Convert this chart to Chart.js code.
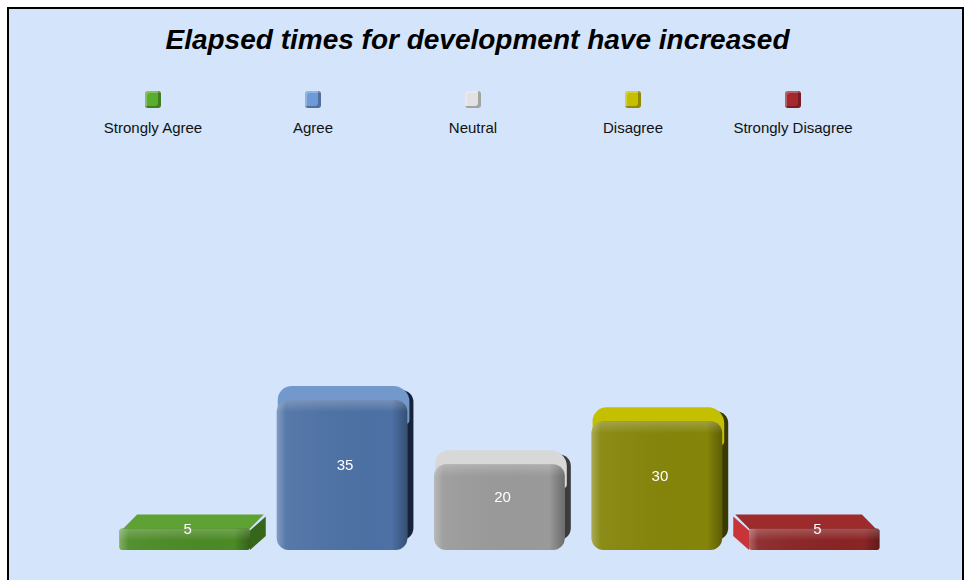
<!DOCTYPE html>
<html>
<head>
<meta charset="utf-8">
<script src="https://cdn.jsdelivr.net/npm/chart.js@4.4.1/dist/chart.umd.min.js"></script>
<style>
  html, body { margin: 0; padding: 0; background: #ffffff; }
  #wrap { position: relative; width: 969px; height: 580px; overflow: hidden; }
  #frame {
    position: absolute; left: 7px; top: 7px; width: 953px; height: 640px;
    border: 2px solid #000; background: #d3e4fb;
  }
  #title {
    position: absolute; left: 0; width: 955px; top: 24px; text-align: center;
    font: italic bold 28px "Liberation Sans", Arial, sans-serif; color: #000;
  }
  #legend { position: absolute; left: 73px; top: 91px; display: flex; }
  .item { width: 160px; text-align: center; font: 15px "Liberation Sans", Arial, sans-serif; color: #111; }
  .box {
    width: 16px; height: 17px; margin: 0 auto 11px auto; border-radius: 3px;
    box-shadow: inset -3px -2px 0 rgba(0,0,0,0.28), inset 2px 2px 0 rgba(255,255,255,0.25);
  }
  canvas { position: absolute; left: 0; top: 0; }
</style>
</head>
<body>
<div id="wrap">
  <div id="frame"></div>
  <div id="title">Elapsed times for development have increased</div>
  <div id="legend"></div>
  <canvas id="chart" width="969" height="580"></canvas>
</div>
<script>
// data
const categories = ["Strongly Agree", "Agree", "Neutral", "Disagree", "Strongly Disagree"];
const values = [5, 35, 20, 30, 5];

// colours
const frontColors = ["#4b8a25", "#4d71a5", "#9a9a9a", "#85850a", "#8a2425"];
const topColors = ["#5fa234", "#7399cc", "#d8d8d8", "#c4bf00", "#9e2b2c"];
const sideColors = ["#36661a", "#17233a", "#3c3c3c", "#3a3a00", "#c93439"];
const legendColors = ["#5bad2e", "#6e9bd8", "#e2e2e2", "#c6bf00", "#a5282c"];

// legend (HTML, boxes above labels)
const legendEl = document.getElementById("legend");
categories.forEach((c, i) => {
  const d = document.createElement("div");
  d.className = "item";
  d.innerHTML = '<div class="box" style="background:' + legendColors[i] + '"></div>' + c;
  legendEl.appendChild(d);
});

const DEPTH = 14;

function geom(chart, el) {
  const ca = chart.chartArea;
  const cx = (ca.left + ca.right) / 2;
  const dx = (cx - el.x) * 0.05;
  const tall = (el.base - el.y) > 50;
  return {
    L: el.x - el.width / 2, R: el.x + el.width / 2,
    T: el.y, B: el.base, dx: dx, dy: DEPTH,
    tall: tall, r: tall ? 12 : 3
  };
}

// back faces (top + side) drawn behind the bar fronts
const boxFaces = {
  id: "boxFaces",
  beforeDatasetsDraw(chart) {
    const ctx = chart.ctx;
    chart.getDatasetMeta(0).data.forEach((el, i) => {
      const g = geom(chart, el);
      const w = g.R - g.L;
      ctx.save();
      if (g.tall) {
        // rounded box seen slightly from above-left
        const sx = 6;
        ctx.fillStyle = sideColors[i];
        ctx.beginPath();
        ctx.roundRect(g.L + sx, g.T - g.dy + 4, w, g.B - g.T, g.r);
        ctx.fill();
        ctx.fillStyle = topColors[i];
        ctx.beginPath();
        ctx.roundRect(g.L + 1, g.T - g.dy, w + sx - 5, g.dy + g.r * 2, [g.r + 2, g.r + 4, 4, 4]);
        ctx.fill();
      } else {
        // flat slab in perspective
        ctx.fillStyle = topColors[i];
        ctx.beginPath();
        ctx.moveTo(g.L + 2, g.T + 2);
        ctx.lineTo(g.R - 2, g.T + 2);
        ctx.lineTo(g.R + g.dx - 2, g.T - g.dy);
        ctx.lineTo(g.L + g.dx + 2, g.T - g.dy);
        ctx.closePath();
        ctx.fill();
        ctx.fillStyle = sideColors[i];
        ctx.beginPath();
        const X = g.dx > 0 ? g.R : g.L;
        ctx.moveTo(X, g.T + 2);
        ctx.lineTo(X + g.dx, g.T - g.dy + 2);
        ctx.lineTo(X + g.dx, g.B - g.dy);
        ctx.lineTo(X, g.B);
        ctx.closePath();
        ctx.fill();
      }
      ctx.restore();
    });
  },
  afterDatasetsDraw(chart) {
    const ctx = chart.ctx;
    const ds = chart.data.datasets[0];
    chart.getDatasetMeta(0).data.forEach((el, i) => {
      const g = geom(chart, el);
      // sheen on the front face
      ctx.save();
      ctx.beginPath();
      ctx.roundRect(g.L, g.T, g.R - g.L, g.B - g.T, g.r);
      ctx.clip();
      const grad = ctx.createLinearGradient(g.L, 0, g.R, 0);
      grad.addColorStop(0, "rgba(255,255,255,0.30)");
      grad.addColorStop(0.07, "rgba(255,255,255,0.06)");
      grad.addColorStop(0.88, "rgba(0,0,0,0)");
      grad.addColorStop(1, "rgba(0,0,0,0.30)");
      ctx.fillStyle = grad;
      ctx.fillRect(g.L, g.T, g.R - g.L, g.B - g.T);
      const vg = ctx.createLinearGradient(0, g.T, 0, g.T + 12);
      vg.addColorStop(0, "rgba(255,255,255,0.22)");
      vg.addColorStop(1, "rgba(255,255,255,0)");
      ctx.fillStyle = vg;
      ctx.fillRect(g.L, g.T, g.R - g.L, 12);
      ctx.restore();
      // value label
      ctx.save();
      ctx.fillStyle = "#ffffff";
      ctx.font = '15px "Liberation Sans", Arial, sans-serif';
      ctx.textAlign = "center";
      ctx.textBaseline = "middle";
      ctx.fillText(ds.data[i], el.x + 3, (g.T + g.B) / 2 - 9);
      ctx.restore();
    });
  }
};

new Chart(document.getElementById("chart").getContext("2d"), {
  type: "bar",
  data: {
    labels: categories,
    datasets: [{
      data: values,
      backgroundColor: frontColors,
      borderRadius: c => (values[c.dataIndex] > 10 ? 12 : 3),
      borderSkipped: false,
      barPercentage: 0.83,
      categoryPercentage: 1
    }]
  },
  options: {
    responsive: false,
    animation: false,
    layout: { padding: { left: 106, right: 76, top: 164, bottom: 30 } },
    scales: {
      x: { display: false },
      y: { display: false, min: 0, max: 90 }
    },
    plugins: {
      legend: { display: false },
      tooltip: { enabled: false }
    }
  },
  plugins: [boxFaces]
});
</script>
</body>
</html>
